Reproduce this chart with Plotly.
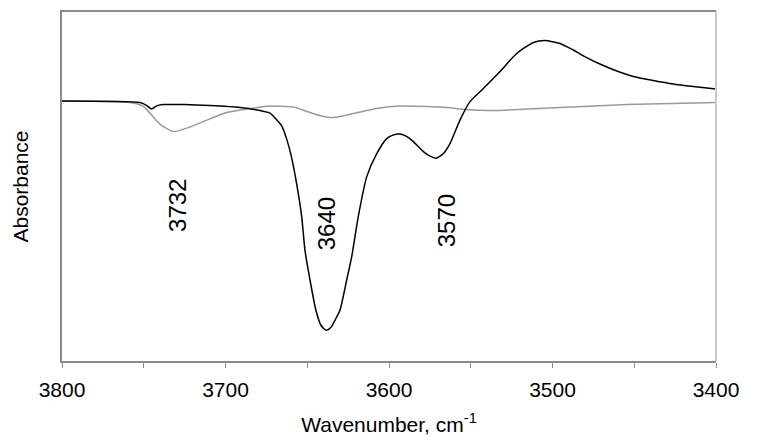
import plotly.graph_objects as go

# Black spectrum (wavenumber, absorbance)
black_wn = [3800.0, 3752.3, 3748.6, 3745.1, 3742.5, 3738.2, 3724.8, 3709.5, 3691.1, 3678.9,
            3672.8, 3669.1, 3665.4, 3662.4, 3659.9, 3656.5, 3653.4, 3651.4, 3648.3, 3644.7,
            3641.6, 3638.5, 3635.5, 3632.4, 3630.0, 3625.9, 3622.8, 3618.8, 3613.6, 3607.5,
            3601.4, 3597.6, 3593.3, 3589.0, 3585.1, 3579.0, 3574.9, 3571.3, 3566.8, 3562.7,
            3556.6, 3550.5, 3542.3, 3532.1, 3521.9, 3511.7, 3504.6, 3495.4, 3487.3, 3479.1,
            3471.0, 3460.7, 3450.6, 3438.4, 3426.1, 3413.9, 3400.0]
black_abs = [0.000, -0.003, -0.008, -0.016, -0.010, -0.007, -0.007, -0.009, -0.013, -0.019,
             -0.024, -0.036, -0.051, -0.078, -0.108, -0.165, -0.231, -0.298, -0.358, -0.418,
             -0.448, -0.458, -0.452, -0.434, -0.418, -0.358, -0.311, -0.231, -0.151, -0.105,
             -0.075, -0.068, -0.066, -0.071, -0.081, -0.101, -0.110, -0.114, -0.105, -0.085,
             -0.038, -0.001, 0.025, 0.059, 0.095, 0.117, 0.121, 0.115, 0.102, 0.087,
             0.074, 0.060, 0.049, 0.041, 0.034, 0.029, 0.024]

# Gray spectrum
gray_wn = [3800.0, 3758.4, 3750.5, 3746.2, 3740.1, 3731.9, 3723.7, 3713.6, 3699.3, 3687.0,
           3672.8, 3658.5, 3648.3, 3636.1, 3621.8, 3607.5, 3593.3, 3576.9, 3564.7, 3552.5,
           3536.2, 3515.8, 3495.4, 3454.6, 3400.0]
gray_abs = [0.000, -0.003, -0.010, -0.024, -0.046, -0.061, -0.054, -0.041, -0.023, -0.016,
            -0.010, -0.012, -0.023, -0.033, -0.025, -0.015, -0.010, -0.011, -0.013, -0.017,
            -0.019, -0.016, -0.013, -0.007, -0.003]

# Peak labels
peak_labels = ["3732", "3640", "3570"]
peak_x = [3729.8, 3638.5, 3565.1]
peak_y = [-0.208, -0.246, -0.240]

x_ticks = [3800, 3700, 3600, 3500, 3400]

FONT = "Arial, 'Liberation Sans', sans-serif"

fig = go.Figure()
fig.add_trace(go.Scatter(x=gray_wn, y=gray_abs, mode="lines",
                         line=dict(color="#999999", width=1.5, shape="spline", smoothing=0.6),
                         showlegend=False, hoverinfo="skip"))
fig.add_trace(go.Scatter(x=black_wn, y=black_abs, mode="lines",
                         line=dict(color="#000000", width=1.5, shape="spline", smoothing=0.6),
                         showlegend=False, hoverinfo="skip"))

for t, xx, yy in zip(peak_labels, peak_x, peak_y):
    fig.add_annotation(x=xx, y=yy, text=t, textangle=-90, showarrow=False,
                       xanchor="center", yanchor="middle",
                       font=dict(family=FONT, size=24, color="black"))

fig.add_shape(type="line", xref="paper", yref="paper", x0=1, x1=1, y0=0, y1=1,
              line=dict(color="#c8c8c8", width=2))

fig.update_layout(
    width=759, height=436,
    margin=dict(l=62, r=43, t=12, b=75),
    paper_bgcolor="white", plot_bgcolor="white",
    font=dict(family=FONT, size=21, color="black"),
    xaxis=dict(range=[3800, 3400], tickvals=x_ticks, ticktext=[str(v) for v in x_ticks],
               automargin=False,
               showgrid=False, zeroline=False,
               showline=True, linecolor="#8c8c8c", linewidth=2, mirror=True,
               ticks="outside", ticklen=5, tickwidth=1, tickcolor="#8c8c8c",
               ticklabelstandoff=4,
               minor=dict(dtick=50, ticks="outside", ticklen=5, tickwidth=1, tickcolor="#8c8c8c",
                          showgrid=False),
               tickfont=dict(family=FONT, size=21, color="black"),
               title=dict(text="Wavenumber, cm<sup>-1</sup>", standoff=20,
                          font=dict(family=FONT, size=21, color="black"))),
    yaxis=dict(range=[-0.5194, 0.178], showticklabels=False, ticks="",
               automargin=False,
               showgrid=False, zeroline=False,
               showline=True, linecolor="#8c8c8c", linewidth=2,
               title=dict(text="Absorbance", standoff=26,
                          font=dict(family=FONT, size=21, color="black"))),
)

fig.write_html("out.html", config={"displayModeBar": False},
               post_script="document.body.style.margin='0';document.body.style.padding='0';")
